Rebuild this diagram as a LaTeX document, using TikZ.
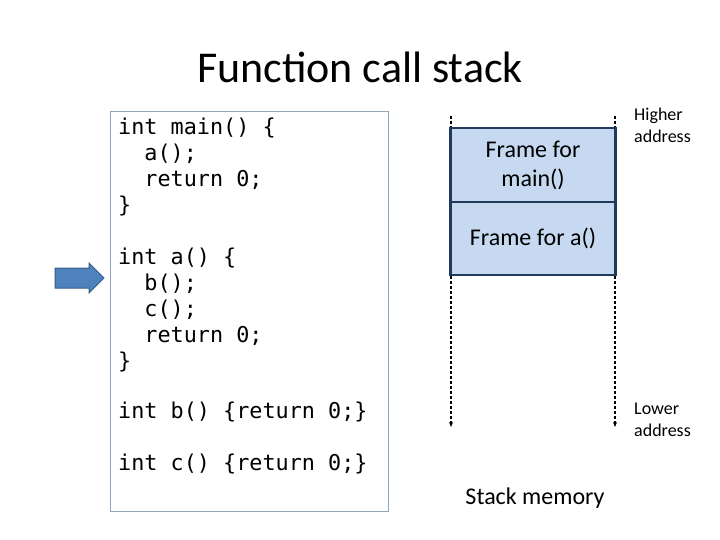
\documentclass[tikz,border=0pt]{standalone}
\usepackage{fontspec}
\setmainfont{Carlito}
\setmonofont{DejaVu Sans Mono}
\usetikzlibrary{arrows.meta}
\definecolor{framefill}{HTML}{C6D9F1}
\definecolor{frameline}{HTML}{1F3A5A}
\definecolor{codeline}{HTML}{8FA6BD}
\definecolor{arrowfill}{HTML}{4F81BD}
\definecolor{arrowline}{HTML}{385D8A}
\tikzset{
  codetext/.style={anchor=west,inner sep=0pt,font=\fontsize{21.8}{26}\selectfont\ttfamily},
  stackframe/.style={draw=frameline,line width=2.5pt,fill=framefill,minimum width=165pt,inner sep=0pt,outer sep=0pt,font=\fontsize{24}{29}\selectfont,align=center},
  guide/.style={densely dashed,line width=1.4pt,-{Stealth[length=5pt,width=4pt]}},
  sidelabel/.style={anchor=west,align=left,inner sep=0pt,font=\fontsize{18}{22}\selectfont},
}
\begin{document}
\begin{tikzpicture}[x=1pt,y=-1pt]
\useasboundingbox (0,0) rectangle (720,540);
\node[font=\fontsize{44}{50}\selectfont,inner sep=0pt] (title) at (360,67) {Function call stack};
\node[draw=codeline,line width=0.8pt,minimum width=278pt,minimum height=400pt,inner sep=0pt] (code) at (249,311) {};
\node[codetext] (l1) at (118,128) {int main() \{};
\node[codetext] (l2) at (118,154) {\ \ a();};
\node[codetext] (l3) at (118,180) {\ \ return 0;};
\node[codetext] (l4) at (118,206) {\}};
\node[codetext] (l5) at (118,258) {int a() \{};
\node[codetext] (l6) at (118,284) {\ \ b();};
\node[codetext] (l7) at (118,310) {\ \ c();};
\node[codetext] (l8) at (118,336) {\ \ return 0;};
\node[codetext] (l9) at (118,362) {\}};
\node[codetext] (l10) at (118,412) {int b() \{return 0;\}};
\node[codetext] (l11) at (118,464) {int c() \{return 0;\}};
\draw[draw=arrowline,line width=1pt,fill=arrowfill,line join=miter]
  (55,268) -- (89,268) -- (89,263) -- (104,278) -- (89,293) -- (89,288) -- (55,288) -- cycle;
\coordinate (lt) at (451,116);
\coordinate (lb) at (451,427);
\coordinate (rt) at (615,116);
\coordinate (rb) at (615,427);
\draw[guide] (lt) -- (lb);
\draw[guide] (rt) -- (rb);
\node[stackframe,minimum height=74pt] (fmain) at (533,165) {Frame for\\main()};
\node[stackframe,minimum height=73pt,anchor=north] (fa) at (fmain.south) {Frame for a()};
\node[sidelabel] (hi) at (634,125) {Higher\\address};
\node[sidelabel] (lo) at (634,420) {Lower\\address};
\node[font=\fontsize{24}{28}\selectfont,inner sep=0pt] (sm) at (535,498) {Stack memory};
\end{tikzpicture}
\end{document}
